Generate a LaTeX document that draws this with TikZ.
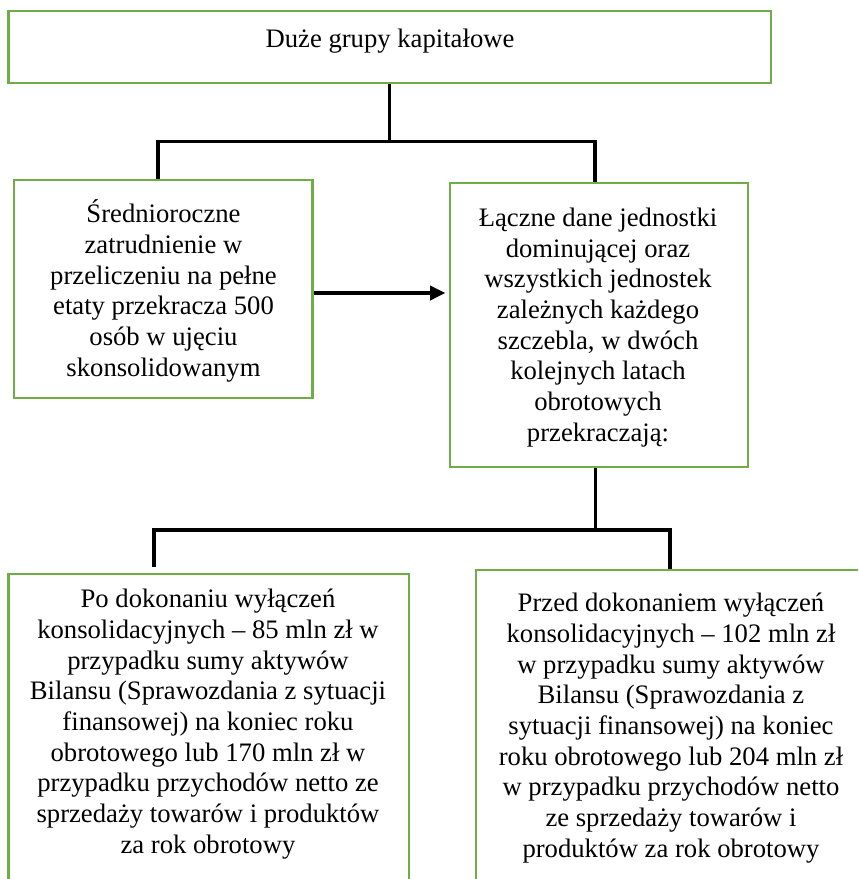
\documentclass[tikz,border=0pt]{standalone}
\usepackage{fontspec}
\setmainfont{Liberation Serif}
\usetikzlibrary{arrows.meta,fit}
\definecolor{boxgreen}{RGB}{112,173,71}
\begin{document}
\begin{tikzpicture}[x=0.75pt,y=-0.75pt,
  box/.style={draw=boxgreen,line width=1.8pt,inner sep=0pt},
  txt/.style={font=\fontsize{20}{23}\selectfont,align=center,inner sep=0pt},
  conn/.style={line width=2.6pt,line join=miter},
  arr/.style={line width=2.7pt,-{Triangle[length=11.5pt,width=10.5pt]}}]
\useasboundingbox (0,0) rectangle (858,879);
\clip (0,0) rectangle (858,879);
\fill[white] (0,0) rectangle (858,879);

\node[box, fit={(8.3,11) (771,83)}] (top) {};
\node[txt] (ttop) at (390,41) {Duże grupy kapitałowe};

\node[box, fit={(13.8,180) (312.4,397.7)}] (left) {};
\node[txt] (tleft) at (163.5,291) {Średnioroczne\\zatrudnienie w\\przeliczeniu na pełne\\etaty przekracza 500\\osób w ujęciu\\skonsolidowanym};

\node[box, fit={(450,183) (748,466.7)}] (right) {};
\node[txt] (tright) at (598,327.5) {Łączne dane jednostki\\dominującej oraz\\wszystkich jednostek\\zależnych każdego\\szczebla, w dwóch\\kolejnych latach\\obrotowych\\przekraczają:};

\node[box, fit={(8.3,574) (409,900)}] (bl) {};
\node[txt] (tbl) at (208,724) {Po dokonaniu wyłączeń\\konsolidacyjnych – 85 mln zł w\\przypadku sumy aktywów\\Bilansu (Sprawozdania z sytuacji\\finansowej) na koniec roku\\obrotowego lub 170 mln zł w\\przypadku przychodów netto ze\\sprzedaży towarów i produktów\\za rok obrotowy};

\node[box, fit={(476,570) (866,900)}] (br) {};
\node[txt] (tbr) at (671,728) {Przed dokonaniem wyłączeń\\konsolidacyjnych – 102 mln zł\\w przypadku sumy aktywów\\Bilansu (Sprawozdania z\\sytuacji finansowej) na koniec\\roku obrotowego lub 204 mln zł\\w przypadku przychodów netto\\ze sprzedaży towarów i\\produktów za rok obrotowy};

\coordinate (j1) at (389.5,141.5);
\coordinate (j1l) at (158,141.5);
\coordinate (j1r) at (595,141.5);
\draw[conn] (top.south -| j1) -- (j1);
\draw[conn] (left.north -| j1l) -- (j1l) -- (j1r) -- (right.north -| j1r);

\coordinate (a) at (380,293);
\draw[arr] (left.east |- a) -- ([xshift=-2.5pt]right.west |- a);

\coordinate (j2) at (595.7,530);
\coordinate (j2l) at (154,530);
\coordinate (j2r) at (670,530);
\coordinate (e2l) at (154,567);
\draw[conn] (right.south -| j2) -- (j2);
\draw[conn] (e2l) -- (j2l) -- (j2r) -- (br.north -| j2r);
\end{tikzpicture}
\end{document}
